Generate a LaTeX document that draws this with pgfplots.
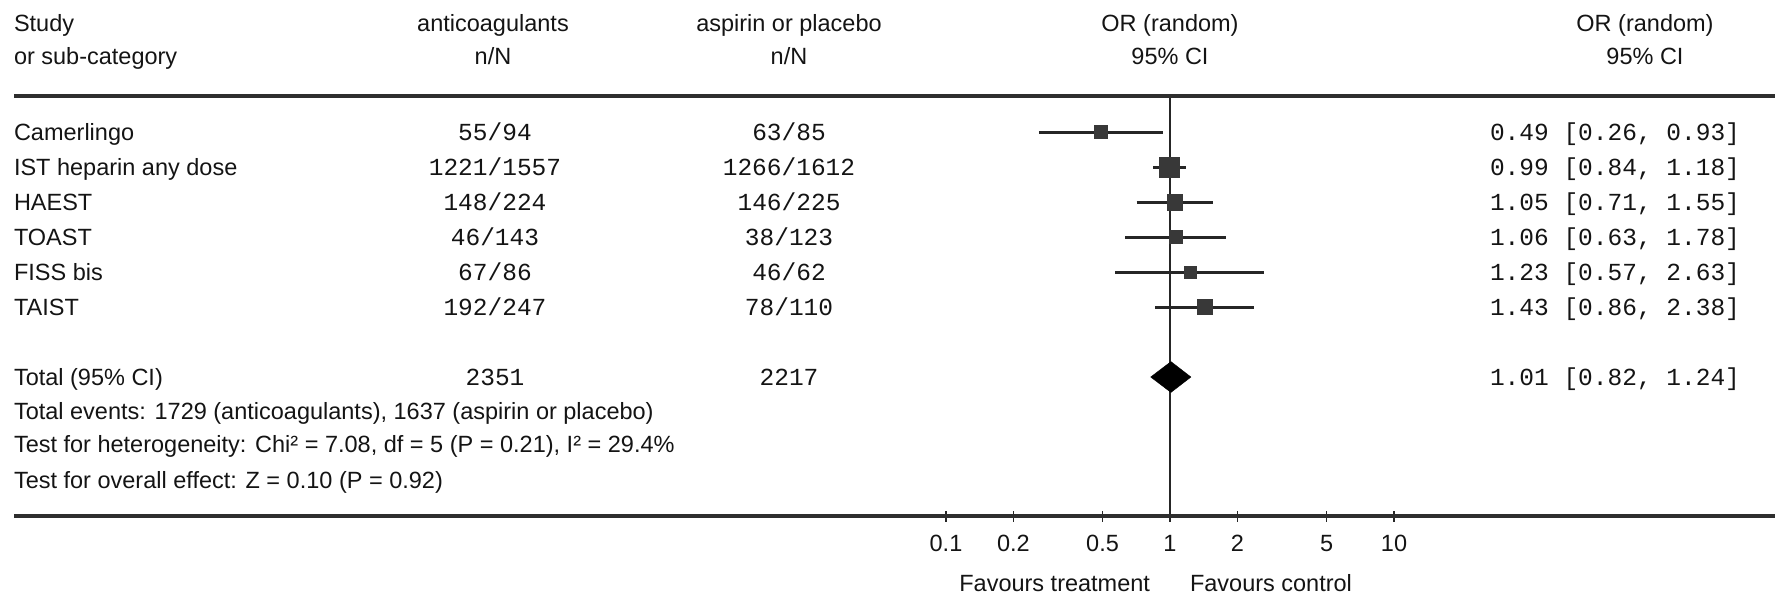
\documentclass[border=0pt]{standalone}
\usepackage{fontspec}
\setmainfont{Liberation Sans}
\newfontfamily\monofam{Liberation Mono}
\usepackage{pgfplots}
\pgfplotsset{compat=1.18}
\definecolor{ink}{HTML}{141414}
\definecolor{sq}{HTML}{383838}
\definecolor{ci}{HTML}{262626}
\definecolor{rulec}{HTML}{2E2E2E}
\newcommand{\fs}{\fontsize{23.5pt}{28pt}\selectfont}
\newcommand{\fm}{\monofam\fontsize{24.5pt}{29pt}\selectfont}

\begin{document}
\begin{tikzpicture}[every node/.style={inner sep=0pt, outer sep=0pt, text=ink}]
\useasboundingbox (0pt,0pt) rectangle (1775pt,-598pt);

% headers
\node[anchor=base west] at (14pt,-31pt) {\fs Study};
\node[anchor=base west] at (14pt,-64pt) {\fs or sub-category};
\node[anchor=base] at (493pt,-31pt) {\fs anticoagulants};
\node[anchor=base] at (493pt,-64pt) {\fs n/N};
\node[anchor=base] at (789pt,-31pt) {\fs aspirin or placebo};
\node[anchor=base] at (789pt,-64pt) {\fs n/N};
\node[anchor=base] at (1170pt,-31pt) {\fs OR (random)};
\node[anchor=base] at (1170pt,-64pt) {\fs 95\% CI};
\node[anchor=base] at (1645pt,-31pt) {\fs OR (random)};
\node[anchor=base] at (1645pt,-64pt) {\fs 95\% CI};

% study rows
\foreach \name/\a/\b/\est [count=\k] in {
  Camerlingo/55\slash 94/63\slash 85/{0.49 [0.26, 0.93]},
  IST heparin any dose/1221\slash 1557/1266\slash 1612/{0.99 [0.84, 1.18]},
  HAEST/148\slash 224/146\slash 225/{1.05 [0.71, 1.55]},
  TOAST/46\slash 143/38\slash 123/{1.06 [0.63, 1.78]},
  FISS bis/67\slash 86/46\slash 62/{1.23 [0.57, 2.63]},
  TAIST/192\slash 247/78\slash 110/{1.43 [0.86, 2.38]}}{
  \pgfmathsetmacro{\yy}{-(132+35*(\k-1)+8.4)}
  \node[anchor=base west] at (14pt,\yy pt) {\fs \name};
  \node[anchor=base] at (495pt,\yy pt) {\fm \a};
  \node[anchor=base] at (789pt,\yy pt) {\fm \b};
  \node[anchor=base west] at (1490pt,\yy pt) {\fm \est};
}

% totals
\node[anchor=base west] at (14pt,-385.4pt) {\fs Total (95\% CI)};
\node[anchor=base] at (495pt,-385.4pt) {\fm 2351};
\node[anchor=base] at (789pt,-385.4pt) {\fm 2217};
\node[anchor=base west] at (1490pt,-385.4pt) {\fm 1.01 [0.82, 1.24]};
\node[anchor=base west] at (14pt,-419.4pt) {\fs Total events: 1729 (anticoagulants), 1637 (aspirin or placebo)};
\node[anchor=base west] at (14pt,-452.4pt) {\fs Test for heterogeneity: Chi² = 7.08, df = 5 (P = 0.21), I² = 29.4\%};
\node[anchor=base west] at (14pt,-488.4pt) {\fs Test for overall effect: Z = 0.10 (P = 0.92)};

% favours
\node[anchor=base east] at (1150pt,-591pt) {\fs Favours treatment};
\node[anchor=base west] at (1190pt,-591pt) {\fs Favours control};

\begin{axis}[
  at={(946pt,-516pt)}, anchor=south west,
  scale only axis, width=448pt, height=420pt,
  xmode=log, xmin=0.1, xmax=10,
  ymin=-11.971, ymax=0.0286,
  axis y line=none, axis x line*=bottom,
  x axis line style={draw=none},
  xtick={0.1,0.2,0.5,1,2,5,10},
  xticklabels={0.1,0.2,0.5,1,2,5,10},
  xminorticks=false,
  tick align=center, major tick length=11pt,
  every tick/.style={ci, line width=1.8pt},
  xticklabel style={font=\fs, text=ink, anchor=base, yshift=-30.4pt, inner sep=0pt},
  /pgf/number format/assume math mode=true,
  clip=false,
]
% null line
\addplot[ci, line width=2pt] coordinates {(1,0.0286) (1,-11.971)};
% confidence intervals
\addplot[ci, line width=3pt] coordinates {(0.26,-1) (0.93,-1)};
\addplot[ci, line width=3pt] coordinates {(0.84,-2) (1.18,-2)};
\addplot[ci, line width=3pt] coordinates {(0.71,-3) (1.55,-3)};
\addplot[ci, line width=3pt] coordinates {(0.63,-4) (1.78,-4)};
\addplot[ci, line width=3pt] coordinates {(0.57,-5) (2.63,-5)};
\addplot[ci, line width=3pt] coordinates {(0.86,-6) (2.38,-6)};
% point estimates (size ~ weight)
\addplot[only marks, mark=square*, mark size=6.5pt, mark options={fill=sq, draw=sq}] coordinates {(0.49,-1)};
\addplot[only marks, mark=square*, mark size=10pt, mark options={fill=sq, draw=sq}] coordinates {(0.99,-2)};
\addplot[only marks, mark=square*, mark size=7.75pt, mark options={fill=sq, draw=sq}] coordinates {(1.05,-3)};
\addplot[only marks, mark=square*, mark size=6.5pt, mark options={fill=sq, draw=sq}] coordinates {(1.06,-4)};
\addplot[only marks, mark=square*, mark size=6.25pt, mark options={fill=sq, draw=sq}] coordinates {(1.23,-5)};
\addplot[only marks, mark=square*, mark size=7.5pt, mark options={fill=sq, draw=sq}] coordinates {(1.43,-6)};
% pooled diamond
\addplot[fill=black, draw=black] coordinates {(0.82,-8) (1.01,-7.56) (1.24,-8) (1.01,-8.44)} -- cycle;
\end{axis}

% rules
\draw[rulec, line width=3.5pt] (14pt,-96pt) -- (1775pt,-96pt);
\draw[rulec, line width=3.5pt] (14pt,-516pt) -- (1775pt,-516pt);
\end{tikzpicture}
\end{document}
